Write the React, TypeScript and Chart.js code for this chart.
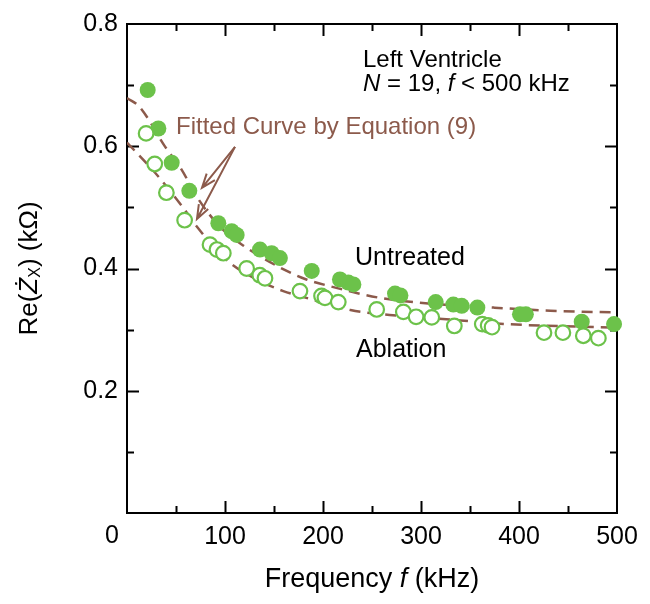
import React, { useEffect, useRef } from 'react';
import { Chart, registerables } from 'chart.js';

Chart.register(...registerables);

// ---- data ----
const untreatedF = [21.1, 32, 45.6, 63.6, 93.2, 106.8, 111.9, 135.7, 147.6, 156, 188.5, 217.3, 225.8, 231, 273.5, 279, 315, 333, 341.5, 357.5, 401, 407, 464, 497];
const untreatedRe = [0.692, 0.629, 0.573, 0.527, 0.474, 0.461, 0.455, 0.431, 0.425, 0.417, 0.396, 0.382, 0.377, 0.374, 0.359, 0.356, 0.345, 0.341, 0.339, 0.336, 0.325, 0.325, 0.313, 0.309];

const ablationF = [19.5, 28.3, 40.2, 58.8, 84.7, 91.8, 98.3, 122.1, 135.5, 140.8, 176.5, 198.5, 202, 215.6, 254.8, 282, 295, 311, 334, 362.5, 368.5, 372.5, 425.5, 444.8, 465.6, 481];
const ablationRe = [0.621, 0.571, 0.524, 0.479, 0.439, 0.431, 0.425, 0.400, 0.389, 0.384, 0.363, 0.355, 0.352, 0.345, 0.333, 0.329, 0.321, 0.320, 0.306, 0.309, 0.307, 0.304, 0.295, 0.295, 0.290, 0.286];

const fitUntreatedF = [0, 13, 39, 56, 71, 95, 120, 163, 183, 207, 258, 299, 374, 432, 500];
const fitUntreatedRe = [0.679, 0.664, 0.599, 0.561, 0.518, 0.468, 0.436, 0.396, 0.382, 0.371, 0.352, 0.344, 0.336, 0.331, 0.328];

const fitAblationF = [0, 23.5, 40, 57.5, 71, 103, 130, 159.5, 183, 228, 268, 333, 387, 462, 500];
const fitAblationRe = [0.606, 0.566, 0.535, 0.499, 0.469, 0.412, 0.384, 0.363, 0.352, 0.332, 0.324, 0.316, 0.309, 0.305, 0.303];

const xTickLabels = ['100', '200', '300', '400', '500'];
const yTickLabels = ['0.2', '0.4', '0.6', '0.8'];

// arrow annotation (data coordinates): start and two tips
const arrowStart = { x: 110.2, y: 0.599 };
const arrowTips = [
  { x: 76.5, y: 0.532 },
  { x: 71.4, y: 0.481 },
];

const FONT = '"Liberation Sans", Arial, Helvetica, sans-serif';
const GREEN = '#6cc24a';
const BROWN = '#8c5a4b';

const zip = (xs: number[], ys: number[]) => xs.map((x, i) => ({ x, y: ys[i] }));

type Run = { t: string; f: string; dy?: number };

function drawRuns(ctx: CanvasRenderingContext2D, runs: Run[], x: number, y: number, align: 'left' | 'center') {
  let total = 0;
  for (const r of runs) {
    ctx.font = r.f;
    total += ctx.measureText(r.t).width;
  }
  let cx = align === 'center' ? x - total / 2 : x;
  ctx.textAlign = 'left';
  ctx.textBaseline = 'alphabetic';
  for (const r of runs) {
    ctx.font = r.f;
    ctx.fillText(r.t, cx, y + (r.dy || 0));
    cx += ctx.measureText(r.t).width;
  }
}

const decor = {
  id: 'decor',
  beforeDatasetsDraw(chart: any) {
    const { ctx, chartArea: a, scales } = chart;
    const xs = scales.x;
    const ys = scales.y;
    ctx.save();
    ctx.strokeStyle = '#000';
    ctx.lineWidth = 2;
    ctx.strokeRect(a.left, a.top, a.right - a.left, a.bottom - a.top);
    ctx.beginPath();
    for (const t of xs.ticks) {
      const v = t.value;
      if (v <= 0 || v >= 500) continue;
      const major = Math.round(v) % 100 === 0;
      const len = major ? 12 : 7;
      const px = Math.round(xs.getPixelForValue(v)) + 0.5;
      ctx.moveTo(px, a.bottom);
      ctx.lineTo(px, a.bottom - len);
      ctx.moveTo(px, a.top);
      ctx.lineTo(px, a.top + len);
    }
    for (const t of ys.ticks) {
      const v = t.value;
      if (v <= 0.001 || v >= 0.799) continue;
      const major = Math.round(v * 10) % 2 === 0;
      const len = major ? 12 : 7;
      const py = Math.round(ys.getPixelForValue(v)) + 0.5;
      ctx.moveTo(a.left, py);
      ctx.lineTo(a.left + len, py);
      ctx.moveTo(a.right, py);
      ctx.lineTo(a.right - len, py);
    }
    ctx.stroke();
    ctx.restore();
  },
  afterDraw(chart: any) {
    const { ctx, chartArea: a, scales } = chart;
    const xs = scales.x;
    const ys = scales.y;
    ctx.save();
    ctx.fillStyle = '#000';

    // "0" corner label
    ctx.font = `25px ${FONT}`;
    ctx.textAlign = 'center';
    ctx.textBaseline = 'alphabetic';
    ctx.fillText('0', xs.getPixelForValue(0) - 15, a.bottom + 30);

    // x title
    drawRuns(ctx, [
      { t: 'Frequency ', f: `27px ${FONT}` },
      { t: 'f', f: `italic 27px ${FONT}` },
      { t: ' (kHz)', f: `27px ${FONT}` },
    ], (a.left + a.right) / 2, 587, 'center');

    // y title (rotated)
    ctx.save();
    ctx.translate(37, (a.top + a.bottom) / 2);
    ctx.rotate(-Math.PI / 2);
    drawRuns(ctx, [
      { t: 'Re(', f: `26px ${FONT}` },
      { t: '\u017B', f: `italic 26px ${FONT}` },
      { t: 'X', f: `16px ${FONT}`, dy: 3 },
      { t: ') (k\u03A9)', f: `26px ${FONT}` },
    ], 0, 0, 'center');
    ctx.restore();

    // annotations
    drawRuns(ctx, [{ t: 'Left Ventricle', f: `24px ${FONT}` }], 363, 67, 'left');
    drawRuns(ctx, [
      { t: 'N', f: `italic 24px ${FONT}` },
      { t: ' = 19, ', f: `24px ${FONT}` },
      { t: 'f', f: `italic 24px ${FONT}` },
      { t: ' < 500 kHz', f: `24px ${FONT}` },
    ], 363, 91, 'left');
    drawRuns(ctx, [{ t: 'Untreated', f: `25px ${FONT}` }], 355, 265, 'left');
    drawRuns(ctx, [{ t: 'Ablation', f: `25px ${FONT}` }], 356, 357, 'left');

    ctx.fillStyle = BROWN;
    drawRuns(ctx, [{ t: 'Fitted Curve by Equation (9)', f: `24px ${FONT}` }], 176, 134, 'left');

    // arrows
    ctx.strokeStyle = BROWN;
    ctx.lineWidth = 2;
    const sx = xs.getPixelForValue(arrowStart.x);
    const sy = ys.getPixelForValue(arrowStart.y);
    for (const tip of arrowTips) {
      const tx = xs.getPixelForValue(tip.x);
      const ty = ys.getPixelForValue(tip.y);
      const ang = Math.atan2(ty - sy, tx - sx);
      const hl = 15;
      const spread = 0.36;
      ctx.beginPath();
      ctx.moveTo(sx, sy);
      ctx.lineTo(tx, ty);
      ctx.moveTo(tx - hl * Math.cos(ang - spread), ty - hl * Math.sin(ang - spread));
      ctx.lineTo(tx, ty);
      ctx.lineTo(tx - hl * Math.cos(ang + spread), ty - hl * Math.sin(ang + spread));
      ctx.stroke();
    }
    ctx.restore();
  },
};

export default function App() {
  const ref = useRef<HTMLCanvasElement | null>(null);
  useEffect(() => {
    if (!ref.current) return;
    const chart = new Chart(ref.current, {
      type: 'scatter',
      data: {
        datasets: [
          {
            label: 'Ablation',
            data: zip(ablationF, ablationRe),
            pointRadius: 7.3,
            pointBackgroundColor: '#ffffff',
            pointBorderColor: GREEN,
            pointBorderWidth: 2.2,
            clip: false,
          } as any,
          {
            label: 'Untreated',
            data: zip(untreatedF, untreatedRe),
            pointRadius: 8,
            pointBackgroundColor: GREEN,
            pointBorderColor: GREEN,
            pointBorderWidth: 0,
            clip: false,
          } as any,
          {
            label: 'Fit untreated',
            data: zip(fitUntreatedF, fitUntreatedRe),
            showLine: true,
            borderColor: BROWN,
            borderWidth: 2.5,
            borderDash: [11, 7],
            pointRadius: 0,
            cubicInterpolationMode: 'monotone',
            fill: false,
          } as any,
          {
            label: 'Fit ablation',
            data: zip(fitAblationF, fitAblationRe),
            showLine: true,
            borderColor: BROWN,
            borderWidth: 2.5,
            borderDash: [11, 7],
            pointRadius: 0,
            cubicInterpolationMode: 'monotone',
            fill: false,
          } as any,
        ],
      },
      options: {
        responsive: false,
        animation: false,
        layout: { padding: { top: 23, right: 33, left: 0, bottom: 0 } },
        plugins: { legend: { display: false }, tooltip: { enabled: false } },
        scales: {
          x: {
            type: 'linear',
            position: 'bottom',
            min: 0,
            max: 500,
            grid: { display: false, drawTicks: false },
            border: { display: false },
            ticks: {
              stepSize: 50,
              autoSkip: false,
              maxRotation: 0,
              padding: 9,
              color: '#000',
              font: { family: FONT, size: 25 },
              callback: (v: any) => {
                const s = String(Math.round(Number(v)));
                return xTickLabels.includes(s) ? s : '';
              },
            },
            afterFit: (s: any) => { s.height = 91; },
          },
          y: {
            type: 'linear',
            min: 0,
            max: 0.8,
            grid: { display: false, drawTicks: false },
            border: { display: false },
            ticks: {
              stepSize: 0.1,
              autoSkip: false,
              padding: 9,
              color: '#000',
              font: { family: FONT, size: 25 },
              callback: (v: any) => {
                const s = Number(v).toFixed(1);
                return yTickLabels.includes(s) ? s : '';
              },
            },
            afterFit: (s: any) => { s.width = 127; },
          },
        },
      } as any,
      plugins: [decor],
    });
    return () => chart.destroy();
  }, []);
  return (
    <canvas
      ref={ref}
      width={650}
      height={604}
      style={{ position: 'fixed', left: 0, top: 0, width: 650, height: 604, background: '#fff' }}
    />
  );
}
